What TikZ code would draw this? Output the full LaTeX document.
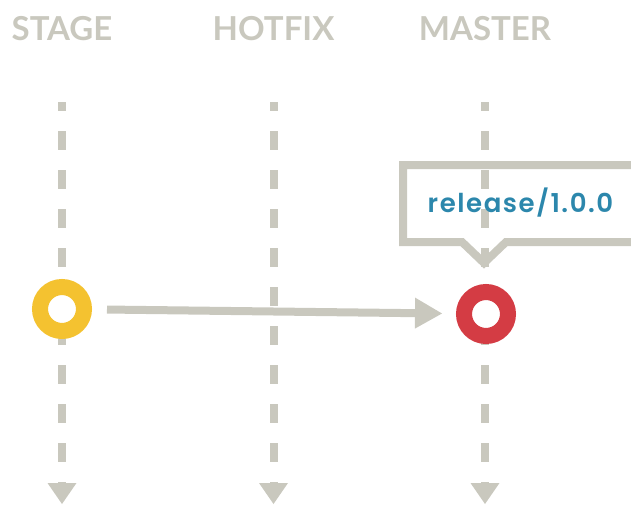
\documentclass[tikz,border=0pt]{standalone}
\usepackage{fontspec}
\setmainfont{Lato}
\newfontfamily\tagfont{Poppins SemiBold}[LetterSpace=6]
\usetikzlibrary{arrows.meta}
\definecolor{lanegray}{RGB}{201,200,190}
\definecolor{stageyellow}{RGB}{244,194,48}
\definecolor{masterred}{RGB}{212,60,68}
\definecolor{tagblue}{RGB}{44,135,172}

\begin{document}
\begin{tikzpicture}[x=1pt,y=-1pt,
  head/.style={anchor=base,text=lanegray,font=\fontsize{33}{33}\selectfont\bfseries},
  lane/.style={draw=lanegray,line width=8pt,dash pattern=on 19pt off 20pt,dash phase=10pt,
    -{Triangle[width=29pt,length=21pt,line width=0pt]}},
  commit/.style={circle,draw=#1,fill=white,line width=16pt,minimum size=44pt,inner sep=0pt},
  merge/.style={draw=lanegray,line width=8pt,shorten <=15pt,shorten >=14pt,
    -{Triangle[width=31pt,length=27pt,line width=0pt]}},
  tag/.style={draw=lanegray,line width=8pt,miter limit=10}]
\useasboundingbox (0,0) rectangle (631,504);
\clip (0,0) rectangle (631,504);

\foreach \name/\x/\txt in {stage/62/STAGE,hotfix/273.5/HOTFIX,master/485/MASTER}{
  \node[head] (\name-head) at (\x,40) {\txt};
  \coordinate (\name-top) at (\x,102);
  \coordinate (\name-end) at (\x,504);
  \draw[lane] (\name-top) -- (\name-end);
}

\node[commit=stageyellow] (stage-commit) at (62,309) {};
\node[commit=masterred] (master-commit) at (486,314) {};
\draw[merge] (stage-commit) -- (master-commit);

%callout for the tag
\draw[tag] (641,165) -- (403,165) -- (403,242) -- (462,242) -- (484,263) -- (506,242) -- (641,242);
\node[anchor=base,text=tagblue,font=\tagfont\fontsize{26}{26}\selectfont] (release) at (520.5,212) {release/1.0.0};

\end{tikzpicture}
\end{document}
